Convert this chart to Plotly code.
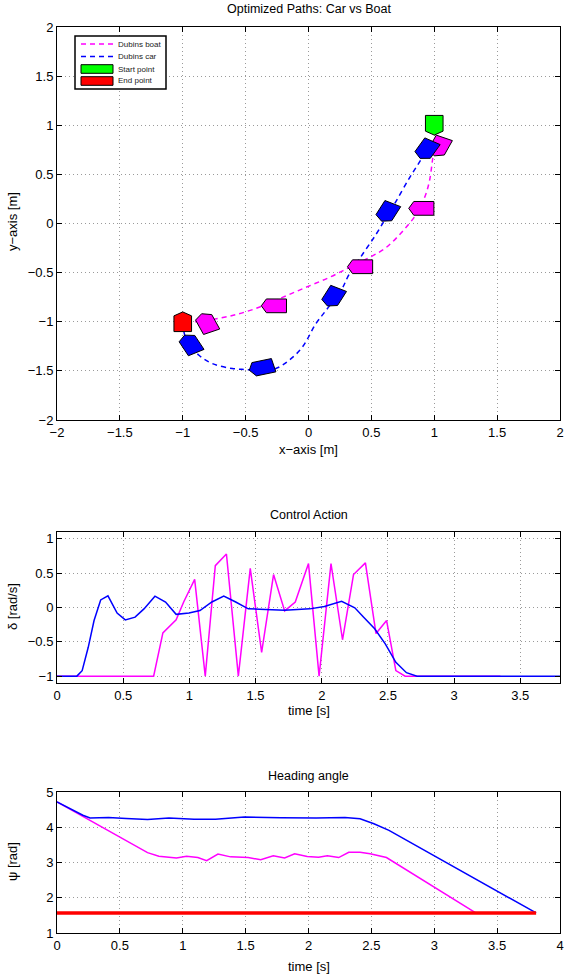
import plotly.graph_objects as go
import numpy as np

# ---------------- data ----------------
# Top panel: paths (x, y in m)
car_path_x = [0.93, 0.87, 0.802, 0.696, 0.616, 0.537, 0.430, 0.324, 0.258, 0.138, 0.058, -0.048,
              -0.154, -0.260, -0.393, -0.499, -0.606, -0.765, -0.871, -0.964, -1.0]
car_path_y = [0.72, 0.60, 0.462, 0.226, 0.057, -0.111, -0.313, -0.516, -0.684, -0.886, -1.021, -1.257,
              -1.392, -1.476, -1.493, -1.486, -1.476, -1.426, -1.341, -1.207, -1.04]
boat_path_x = [1.0, 0.988, 0.961, 0.922, 0.855, 0.749, 0.616, 0.483, 0.324, 0.165, -0.021, -0.207,
               -0.393, -0.606, -0.818, -0.924]
boat_path_y = [0.76, 0.664, 0.428, 0.260, 0.091, -0.078, -0.246, -0.347, -0.448, -0.549, -0.650, -0.752,
               -0.853, -0.937, -0.988, -1.004]

# ship icons: centre x, centre y, heading [rad]
boat_icon_x = [1.04, 0.897, 0.41, -0.275, -0.81]
boat_icon_y = [0.78, 0.154, -0.44, -0.838, -1.01]
boat_icon_psi = [4.3, 3.14, 3.14, 3.14, 1.98]
car_icon_x = [0.937, 0.626, 0.195, -0.374, -0.939]
car_icon_y = [0.75, 0.113, -0.75, -1.468, -1.225]
car_icon_psi = [4.2, 4.25, 4.25, 3.4, 2.05]
start_point = (1.0, 1.0, 4.712)
end_point = (-1.0, -1.0, 1.571)

# legend entries
legend_labels = ["Dubins boat", "Dubins car", "Start point", "End point"]

# Middle panel: control action
car_t = [0, 0.15, 0.19, 0.236, 0.28, 0.33, 0.385, 0.454, 0.516, 0.59, 0.657, 0.74, 0.82, 0.90, 0.997,
         1.08, 1.17, 1.26, 1.35, 1.445, 1.53, 1.72, 1.91, 2.02, 2.15, 2.25, 2.315, 2.40, 2.48, 2.56,
         2.64, 2.72, 3.81]
car_delta = [-1, -1, -0.92, -0.58, -0.19, 0.11, 0.17, -0.08, -0.18, -0.14, -0.02, 0.165, 0.08, -0.10,
             -0.08, -0.045, 0.08, 0.165, 0.08, -0.02, -0.025, -0.04, -0.02, 0.015, 0.09, -0.005, -0.14,
             -0.31, -0.53, -0.80, -0.95, -1, -1]
boat_t = [0, 0.73, 0.80, 0.90, 0.957, 1.04, 1.12, 1.196, 1.28, 1.37, 1.46, 1.546, 1.636, 1.72, 1.80,
          1.90, 1.98, 2.07, 2.157, 2.24, 2.33, 2.41, 2.49, 2.56, 2.63, 3.35]
boat_delta = [-1, -1, -0.37, -0.18, 0.08, 0.41, -1, 0.61, 0.78, -1, 0.57, -0.655, 0.48, -0.05, 0.08,
              0.64, -1, 0.64, -0.47, 0.48, 0.65, -0.38, -0.19, -0.92, -1, -1]

# Bottom panel: heading angle
car_psi_t = [0, 0.206, 0.263, 0.41, 0.55, 0.72, 0.89, 1.09, 1.26, 1.49, 1.78, 2.06, 2.29, 2.41, 2.52,
             2.64, 3.81]
car_psi = [4.72, 4.34, 4.265, 4.28, 4.25, 4.22, 4.26, 4.23, 4.23, 4.29, 4.27, 4.26, 4.28, 4.24, 4.10,
           3.91, 1.57]
boat_psi_t = [0, 0.2, 0.72, 0.81, 0.95, 1.03, 1.12, 1.19, 1.28, 1.38, 1.52, 1.62, 1.72, 1.81, 1.89,
              1.99, 2.08, 2.15, 2.24, 2.32, 2.41, 2.49, 2.62, 3.33]
boat_psi = [4.72, 4.32, 3.28, 3.18, 3.13, 3.18, 3.14, 3.05, 3.24, 3.16, 3.14, 3.08, 3.19, 3.13, 3.25,
            3.17, 3.15, 3.19, 3.14, 3.29, 3.29, 3.25, 3.14, 1.57]
ref_t = [0, 3.81]
ref_psi = [1.5708, 1.5708]

# ---------------- styling ----------------
W, H = 566, 974
FONT = "Liberation Sans, Arial, sans-serif"
MAG = "#ff00ff"
BLU = "#0000ff"
GRN = "#00ff00"
RED = "#ff0000"
SHIP_L, SHIP_W, SHIP_TIP = 0.2, 0.14, 0.04


def ship(xc, yc, psi):
    u = [-SHIP_L / 2, SHIP_L / 2 - SHIP_TIP, SHIP_L / 2, SHIP_L / 2 - SHIP_TIP, -SHIP_L / 2, -SHIP_L / 2]
    v = [-SHIP_W / 2, -SHIP_W / 2, 0, SHIP_W / 2, SHIP_W / 2, -SHIP_W / 2]
    c, s = np.cos(psi), np.sin(psi)
    xs = [xc + a * c - b * s for a, b in zip(u, v)]
    ys = [yc + a * s + b * c for a, b in zip(u, v)]
    return xs, ys


def px_x(p):
    return p / W


def px_y(p):
    return 1 - p / H


fig = go.Figure()

# paths
fig.add_trace(go.Scatter(x=boat_path_x, y=boat_path_y, mode="lines", name=legend_labels[0],
                         line=dict(color=MAG, width=1.5, dash="5px,4px", shape="spline"),
                         showlegend=False, xaxis="x", yaxis="y"))
fig.add_trace(go.Scatter(x=car_path_x, y=car_path_y, mode="lines", name=legend_labels[1],
                         line=dict(color=BLU, width=1.5, dash="5px,4px", shape="spline"),
                         showlegend=False, xaxis="x", yaxis="y"))
for xc, yc, p in zip(boat_icon_x, boat_icon_y, boat_icon_psi):
    xs, ys = ship(xc, yc, p)
    fig.add_trace(go.Scatter(x=xs, y=ys, mode="lines", fill="toself", fillcolor=MAG,
                             line=dict(color="black", width=1), showlegend=False, hoverinfo="skip"))
for xc, yc, p in zip(car_icon_x, car_icon_y, car_icon_psi):
    xs, ys = ship(xc, yc, p)
    fig.add_trace(go.Scatter(x=xs, y=ys, mode="lines", fill="toself", fillcolor=BLU,
                             line=dict(color="black", width=1), showlegend=False, hoverinfo="skip"))
xs, ys = ship(*start_point)
fig.add_trace(go.Scatter(x=xs, y=ys, mode="lines", fill="toself", fillcolor=GRN, name=legend_labels[2],
                         line=dict(color="black", width=1), showlegend=False))
xs, ys = ship(*end_point)
fig.add_trace(go.Scatter(x=xs, y=ys, mode="lines", fill="toself", fillcolor=RED, name=legend_labels[3],
                         line=dict(color="black", width=1), showlegend=False))

# control action
fig.add_trace(go.Scatter(x=boat_t, y=boat_delta, mode="lines", line=dict(color=MAG, width=1.5),
                         showlegend=False, xaxis="x2", yaxis="y2"))
fig.add_trace(go.Scatter(x=car_t, y=car_delta, mode="lines", line=dict(color=BLU, width=1.5),
                         showlegend=False, xaxis="x2", yaxis="y2"))

# heading
fig.add_trace(go.Scatter(x=boat_psi_t, y=boat_psi, mode="lines", line=dict(color=MAG, width=1.5),
                         showlegend=False, xaxis="x3", yaxis="y3"))
fig.add_trace(go.Scatter(x=car_psi_t, y=car_psi, mode="lines", line=dict(color=BLU, width=1.5),
                         showlegend=False, xaxis="x3", yaxis="y3"))
fig.add_trace(go.Scatter(x=ref_t, y=ref_psi, mode="lines", line=dict(color=RED, width=3.5),
                         showlegend=False, xaxis="x3", yaxis="y3"))

axis_common = dict(showline=True, linecolor="black", linewidth=1, mirror="ticks", ticks="inside",
                   ticklen=5, tickcolor="black", showgrid=True, gridcolor="#9a9a9a", griddash="1px,3px",
                   gridwidth=1, zeroline=False, automargin=False,
                   tickfont=dict(family=FONT, size=13, color="black"))

xdom = [px_x(57), px_x(560)]
fig.update_layout(
    width=W, height=H, margin=dict(l=0, r=0, t=0, b=0, pad=0, autoexpand=False),
    paper_bgcolor="white", plot_bgcolor="white",
    font=dict(family=FONT, color="black"),
    xaxis=dict(domain=xdom, range=[-2, 2], tickvals=[-2, -1.5, -1, -0.5, 0, 0.5, 1, 1.5, 2],
               anchor="y", **axis_common),
    yaxis=dict(domain=[px_y(420), px_y(27)], range=[-2, 2], tickvals=[-2, -1.5, -1, -0.5, 0, 0.5, 1, 1.5, 2],
               anchor="x", **axis_common),
    xaxis2=dict(domain=xdom, range=[0, 3.8], tickvals=[0, 0.5, 1, 1.5, 2, 2.5, 3, 3.5],
                anchor="y2", **axis_common),
    yaxis2=dict(domain=[px_y(683), px_y(532)], range=[-1.1, 1.1], tickvals=[-1, -0.5, 0, 0.5, 1],
                anchor="x2", **axis_common),
    xaxis3=dict(domain=xdom, range=[0, 4], tickvals=[0, 0.5, 1, 1.5, 2, 2.5, 3, 3.5, 4],
                anchor="y3", **axis_common),
    yaxis3=dict(domain=[px_y(933), px_y(792)], range=[1, 5], tickvals=[1, 2, 3, 4, 5],
                anchor="x3", **axis_common),
    showlegend=False,
)

# ---- legend box (drawn with shapes + text, in pixel positions of the figure) ----
shapes = [dict(type="rect", xref="paper", yref="paper", x0=px_x(75), x1=px_x(166), y0=px_y(89), y1=px_y(36),
               line=dict(color="black", width=1.5), fillcolor="white", layer="above")]
row_y = [44, 56.5, 69, 81]
legend_styles = [("line", MAG), ("line", BLU), ("patch", GRN), ("patch", RED)]
for (kind, col), ry, lab in zip(legend_styles, row_y, legend_labels):
    if kind == "line":
        shapes.append(dict(type="line", xref="paper", yref="paper", x0=px_x(81), x1=px_x(113),
                           y0=px_y(ry), y1=px_y(ry), line=dict(color=col, width=1.5, dash="5px,4px"),
                           layer="above"))
    else:
        shapes.append(dict(type="rect", xref="paper", yref="paper", x0=px_x(81), x1=px_x(113),
                           y0=px_y(ry + 4.3), y1=px_y(ry - 4.3), line=dict(color="black", width=1),
                           fillcolor=col, layer="above"))
    fig.add_annotation(text=lab, x=px_x(116), y=px_y(ry), xref="paper", yref="paper", xanchor="left",
                       yanchor="middle", showarrow=False, font=dict(family=FONT, size=8, color="#222"))
fig.update_layout(shapes=shapes)

cx = (57 + 560) / 2
ann = [
    ("Optimized Paths: Car vs Boat", cx, 9, 0, 12.5),
    ("x\u2212axis [m]", cx, 449, 0, 13),
    ("Control Action", cx, 515, 0, 12.5),
    ("time [s]", cx, 710, 0, 13),
    ("Heading angle", cx, 776, 0, 12.5),
    ("time [s]", cx, 966, 0, 13),
    ("y\u2212axis [m]", 12, 222, -90, 13),
    ("\u03b4 [rad/s]", 12, 607, -90, 13),
    ("\u03c8 [rad]", 12, 862, -90, 13),
]
for text, x, y, ang, fs in ann:
    fig.add_annotation(text=text, x=px_x(x), y=px_y(y), xref="paper", yref="paper",
                       xanchor="center", yanchor="middle", showarrow=False, textangle=ang,
                       font=dict(family=FONT, size=fs, color="black"))

fig.write_html("out.html", config={"displayModeBar": False},
               post_script="document.body.style.margin='0';document.body.style.padding='0';")
